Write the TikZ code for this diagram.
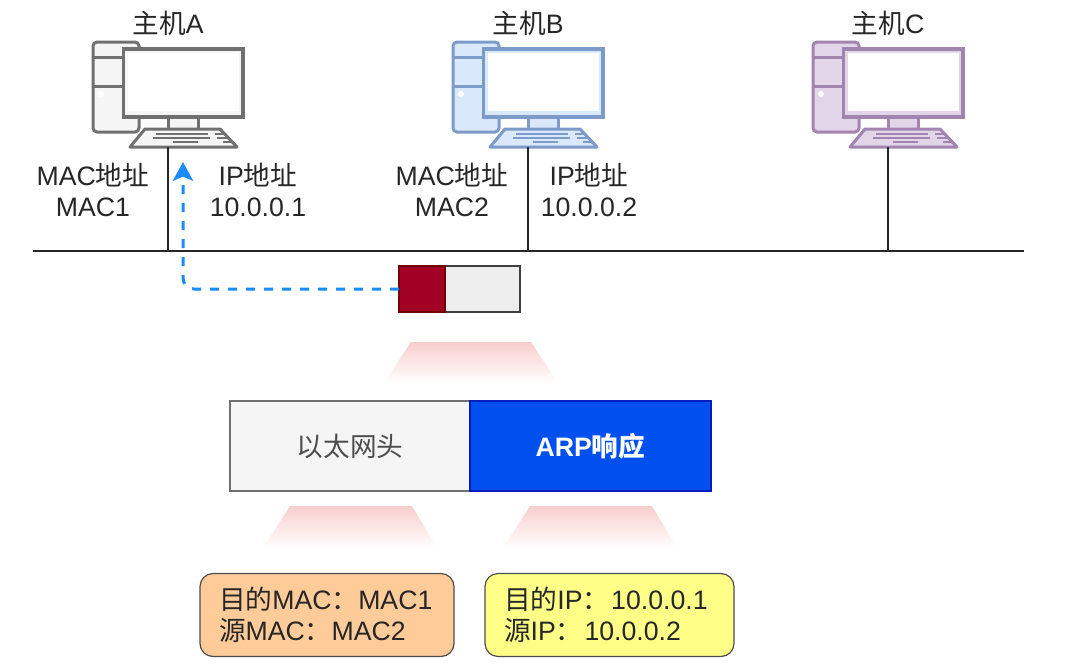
\documentclass[tikz,border=0pt]{standalone}
\usepackage{fontspec}
\setmainfont{Liberation Sans}
\newfontfamily\cjk{Noto Sans CJK SC}
\newcommand{\zh}[1]{{\cjk #1}}
\usetikzlibrary{arrows.meta, positioning}
\definecolor{colorTrap}{HTML}{F8CECC}
\definecolor{colorWire}{HTML}{1A8CFF}
\definecolor{colorGrayLine}{HTML}{707070}
\definecolor{colorGrayFill}{HTML}{F5F5F5}
\definecolor{colorBlueLine}{HTML}{7C9BC8}
\definecolor{colorBlueFill}{HTML}{DAE8FC}
\definecolor{colorPurpleLine}{HTML}{A284B1}
\definecolor{colorPurpleFill}{HTML}{E1D5E7}
\definecolor{colorHeadLine}{HTML}{6F0000}
\definecolor{colorHeadFill}{HTML}{A20025}
\definecolor{colorArpLine}{HTML}{001DBC}
\definecolor{colorArpFill}{HTML}{0050EF}
\definecolor{colorMacFill}{HTML}{FFCC99}
\definecolor{colorIpFill}{HTML}{FFFF88}
\def\px{0.75pt}
\tikzset{
  label text/.style={align=center, inner sep=0pt, font=\fontsize{20}{23.25}\selectfont, text=black!85},
  trap/.style={top color=colorTrap, bottom color=white, draw=none},
  cell/.style={draw, line width=1.2*\px, inner sep=0pt, outer sep=0pt, font=\fontsize{20}{23.25}\selectfont},
  note/.style={draw=black!70, line width=1.2*\px, rounded corners=13*\px, align=left, inner ysep=0pt, inner xsep=19*\px, minimum height=83*\px, font=\fontsize{20}{23.25}\selectfont, text=black!85},
  pics/host/.style n args={2}{code={
    \draw[line width=3*\px, draw=#1, fill=#2, rounded corners=4*\px] (-75,-81) rectangle (-29,9);
    \draw[line width=3*\px, draw=#1] (-75,-66) -- (-45,-66) (-75,-37) -- (-45,-37);
    \fill[white] (-67,-29) circle (3);
    \draw[line width=3*\px, draw=#1, fill=#2] (0,-6) rectangle (30,6);
    \draw[line width=3*\px, draw=#1, fill=#2, line join=round] (-23,6) -- (52,6) -- (69,24) -- (-38,24) -- cycle;
    \draw[line width=2*\px, draw=#1]
      (-12,11) -- (40,11) (47,11) -- (55,11)
      (-15,15) -- (42,15) (49,15) -- (59,15)
      (5,19) -- (30,19) (55,19) -- (63,19);
    \draw[line width=3.2*\px, draw=#1, fill=#2] (-44.5,-74) rectangle (75,-6);
    \fill[white] (-40,-70) rectangle (71,-12);
    \coordinate (-port) at (0,24);
  }}
}

\begin{document}
\begin{tikzpicture}[x=\px, y=-\px]
\useasboundingbox (0,0) rectangle (1066,671);

% hosts
\pic (hostA) at (168,123) {host={colorGrayLine}{colorGrayFill}};
\pic (hostB) at (528,123) {host={colorBlueLine}{colorBlueFill}};
\pic (hostC) at (888,123) {host={colorPurpleLine}{colorPurpleFill}};
\node[label text] (nameA) at (168,23) {\zh{主机}A};
\node[label text] (nameB) at (528,23) {\zh{主机}B};
\node[label text] (nameC) at (888,23) {\zh{主机}C};
\node[label text] (macA) at (93,190) {MAC\zh{地址}\\MAC1};
\node[label text] (ipA) at (258,190) {IP\zh{地址}\\10.0.0.1};
\node[label text] (macB) at (452,190) {MAC\zh{地址}\\MAC2};
\node[label text] (ipB) at (589,190) {IP\zh{地址}\\10.0.0.2};

% network
\coordinate (netL) at (33,251);
\coordinate (netR) at (1024,251);
\coordinate (tapA) at (168,251);
\coordinate (tapB) at (528,251);
\coordinate (tapC) at (888,251);
\draw[line width=1.5*\px, black!85] (netL) -- (netR);
\draw[line width=1.5*\px, black!85] (hostA-port) -- (tapA);
\draw[line width=1.5*\px, black!85] (hostB-port) -- (tapB);
\draw[line width=1.5*\px, black!85] (hostC-port) -- (tapC);

% packet on the wire
\node[cell, draw=black!75, fill=black!7, minimum width=75*\px, minimum height=46*\px] (pktBody) at (482.5,289) {};
\node[cell, draw=colorHeadLine, fill=colorHeadFill, minimum width=46*\px, minimum height=46*\px, left=0pt of pktBody] (pktHead) {};
\coordinate (arrowEnd) at (183,162);
\draw[-{Stealth[length=14pt, width=15pt, inset=3pt]}, colorWire, line width=3*\px, dash pattern=on 6.75pt off 6.75pt, rounded corners=11*\px] (pktHead.west) -| (arrowEnd);

% zoom fans
\shade[trap] (411,342) -- (531,342) -- (558,383) -- (384,383) -- cycle;
\shade[trap] (290,506) -- (412,506) -- (437,548) -- (263,548) -- cycle;
\shade[trap] (530,506) -- (652,506) -- (677,548) -- (503,548) -- cycle;

% frame
\node[cell, draw=colorGrayLine, fill=colorGrayFill, text=black!70, minimum width=240*\px, minimum height=90*\px] (ethHead) at (350,446) {\raisebox{1.5pt}{\zh{以太网头}}};
\node[cell, draw=colorArpLine, fill=colorArpFill, text=white, minimum width=241*\px, minimum height=90*\px, right=0pt of ethHead] (arpBody) {\raisebox{1pt}{\textbf{ARP}\zh{\textbf{响应}}}};

% detail boxes
\node[note, fill=colorMacFill, text width=216*\px] (macBox) at (327,615) {\zh{目的}MAC\zh{：}MAC1\\\zh{源}MAC\zh{：}MAC2};
\node[note, fill=colorIpFill, text width=211*\px] (ipBox) at (609.5,615) {\zh{目的}IP\zh{：\kern1.5pt}10.0.0.1\\\zh{源}IP\zh{：\kern1.5pt}10.0.0.2};
\end{tikzpicture}
\end{document}
